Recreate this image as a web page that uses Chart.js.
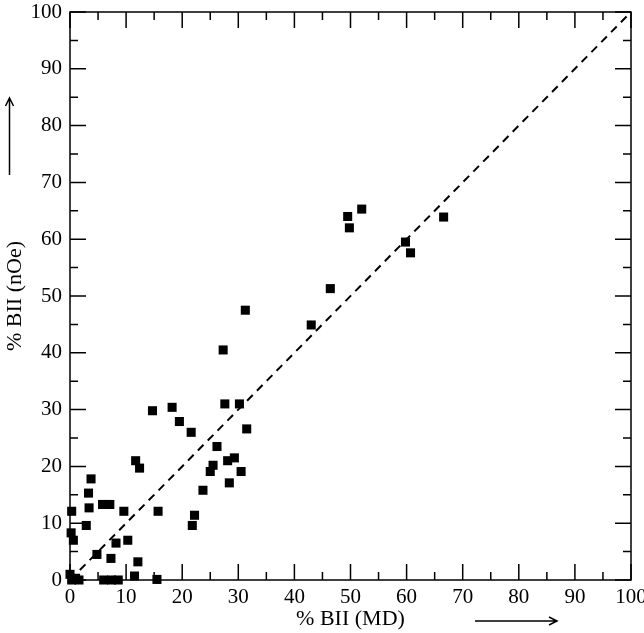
<!DOCTYPE html>
<html>
<head>
<meta charset="utf-8">
<script src="https://cdn.jsdelivr.net/npm/chart.js@4/dist/chart.umd.min.js"></script>
<style>
  html, body { margin: 0; padding: 0; background: #fff; }
  #wrap { width: 644px; height: 633px; }
</style>
</head>
<body>
<div id="wrap"><canvas id="c" width="644" height="633"></canvas></div>
<script>
// % BII from MD simulations (x) vs % BII from nOe (y)
const biiMD = [
  0.0, 0.3, 1.0, 1.6, 0.2, 0.6, 0.3, 2.9, 3.4, 3.3,
  3.75, 4.8, 5.8, 7.1, 6.0, 7.4, 8.6, 7.3, 8.2, 9.6,
  10.3, 11.5, 12.1, 11.7, 12.4, 14.7, 15.5, 15.7, 18.2, 19.5,
  21.6, 21.8, 22.2, 23.7, 25.0, 25.5, 26.2, 27.6, 28.1, 28.4,
  29.3, 30.2, 30.5, 31.5, 27.3, 31.25, 43.0, 46.4, 49.5, 49.8,
  52.0, 59.8, 60.7, 66.6
];
const biiNOe = [
  1.0, 0.0, 0.3, 0.0, 8.3, 7.0, 12.1, 9.6, 12.7, 15.3,
  17.8, 4.5, 13.3, 13.3, 0.0, 0.0, 0.0, 3.8, 6.5, 12.1,
  7.0, 0.7, 3.2, 21.0, 19.7, 29.8, 0.1, 12.1, 30.4, 27.9,
  26.0, 9.6, 11.4, 15.8, 19.1, 20.2, 23.5, 31.0, 21.0, 17.1,
  21.5, 31.0, 19.1, 26.6, 40.5, 47.5, 44.9, 51.3, 64.0, 62.0,
  65.3, 59.5, 57.6, 63.9
];
const diagonalX = [0, 100];
const diagonalY = [0, 100];
const axisMin = 0, axisMax = 100, majorStep = 10, minorStep = 5;
const xTitle = '% BII (MD)';
const yTitle = '% BII (nOe)';

const points = biiMD.map((x, i) => ({ x: x, y: biiNOe[i] }));
const diag = diagonalX.map((x, i) => ({ x: x, y: diagonalY[i] }));

const FONT = "'Liberation Serif', 'Times New Roman', serif";

const framePlugin = {
  id: 'frame',
  beforeDatasetsDraw(chart) {
    const ctx = chart.ctx;
    const xs = chart.scales.x, ys = chart.scales.y;
    const a = chart.chartArea;
    ctx.save();
    ctx.strokeStyle = '#000';
    ctx.lineWidth = 1.5;
    ctx.strokeRect(a.left, a.top, a.right - a.left, a.bottom - a.top);
    ctx.beginPath();
    for (let v = axisMin; v <= axisMax; v += minorStep) {
      const major = (v % majorStep) === 0;
      const len = major ? 16 : 8;
      const px = xs.getPixelForValue(v);
      const py = ys.getPixelForValue(v);
      ctx.moveTo(px, a.bottom); ctx.lineTo(px, a.bottom - len);
      ctx.moveTo(px, a.top); ctx.lineTo(px, a.top + len);
      ctx.moveTo(a.left, py); ctx.lineTo(a.left + len, py);
      ctx.moveTo(a.right, py); ctx.lineTo(a.right - len, py);
    }
    ctx.stroke();
    ctx.restore();
  },
  afterDraw(chart) {
    const ctx = chart.ctx;
    ctx.save();
    ctx.strokeStyle = '#000';
    ctx.lineWidth = 1.5;
    ctx.beginPath();
    ctx.moveTo(475, 621); ctx.lineTo(556, 621);
    ctx.moveTo(549, 617); ctx.lineTo(557, 621); ctx.lineTo(549, 625);
    ctx.stroke();
    ctx.beginPath();
    ctx.moveTo(9.5, 175); ctx.lineTo(9.5, 99);
    ctx.moveTo(5.5, 106); ctx.lineTo(9.5, 98); ctx.lineTo(13.5, 106);
    ctx.stroke();
    ctx.restore();
  }
};

new Chart(document.getElementById('c'), {
  type: 'scatter',
  data: {
    datasets: [
      {
        type: 'line',
        data: diag,
        borderColor: '#000',
        borderWidth: 2,
        borderDash: [8, 6],
        pointRadius: 0,
        fill: false,
        order: 2
      },
      {
        data: points,
        pointStyle: 'rect',
        pointRadius: 6.4,
        pointHoverRadius: 6.4,
        backgroundColor: '#000',
        borderColor: '#000',
        borderWidth: 0,
        clip: false,
        order: 1
      }
    ]
  },
  options: {
    responsive: false,
    maintainAspectRatio: false,
    devicePixelRatio: 1,
    animation: false,
    events: [],
    layout: { padding: { left: 0, right: 13, top: 12, bottom: 0 } },
    plugins: { legend: { display: false }, tooltip: { enabled: false } },
    scales: {
      x: {
        type: 'linear',
        min: axisMin, max: axisMax,
        border: { display: false },
        grid: { display: false, drawTicks: false },
        ticks: {
          stepSize: majorStep,
          padding: 5,
          color: '#000',
          maxRotation: 0,
          autoSkip: false,
          font: { family: FONT, size: 21 }
        },
        title: {
          display: true,
          text: xTitle,
          color: '#000',
          font: { family: FONT, size: 22 },
          padding: { top: 0, bottom: 1 }
        },
        afterFit(s) { s.height = 53; s.paddingLeft = 0; s.paddingRight = 0; }
      },
      y: {
        type: 'linear',
        min: axisMin, max: axisMax,
        border: { display: false },
        grid: { display: false, drawTicks: false },
        ticks: {
          stepSize: majorStep,
          padding: 8,
          color: '#000',
          autoSkip: false,
          font: { family: FONT, size: 21 }
        },
        title: {
          display: true,
          text: yTitle,
          color: '#000',
          font: { family: FONT, size: 22 },
          padding: { top: 2, bottom: 0 }
        },
        afterFit(s) { s.width = 70; s.paddingTop = 0; s.paddingBottom = 0; }
      }
    }
  },
  plugins: [framePlugin]
});
</script>
</body>
</html>
